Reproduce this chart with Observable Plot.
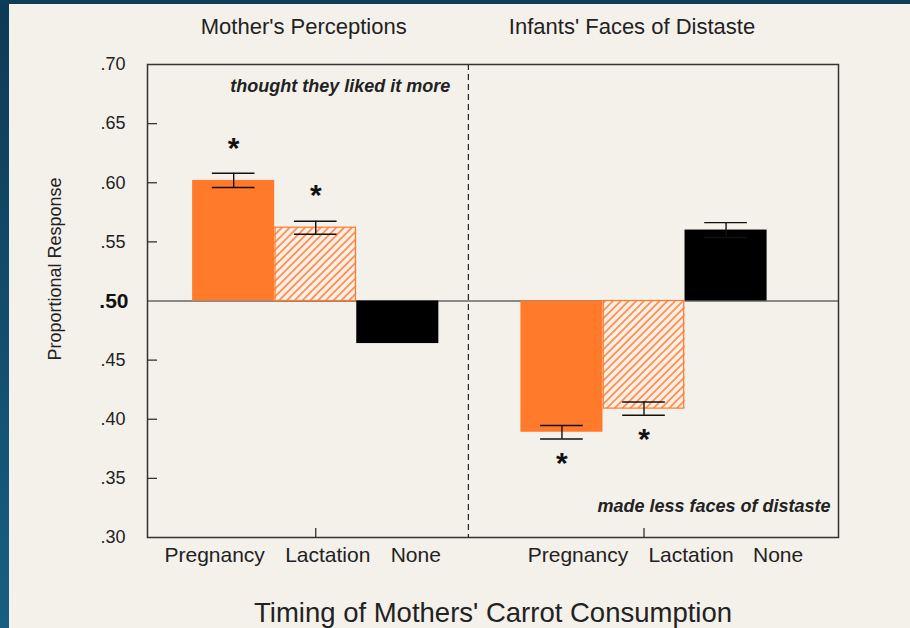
<!DOCTYPE html>
<html><head><meta charset="utf-8">
<script src="https://cdn.jsdelivr.net/npm/d3@7"></script>
<script src="https://cdn.jsdelivr.net/npm/@observablehq/plot@0.6"></script>
<style>
html,body{margin:0;padding:0;background:#f4f1eb;}
#wrap{position:relative;width:910px;height:628px;overflow:hidden;background:#f4f1eb;}
#wrap svg{position:absolute;left:0;top:0;}
.bl{position:absolute;left:0;top:0;width:9px;height:628px;background:linear-gradient(#0d3a56,#175f82);}
.bt{position:absolute;left:0;top:0;width:910px;height:4px;background:#0e3c59;}
</style></head><body><div id="wrap"><div class="bl"></div><div class="bt"></div></div>
<script>
// ---- data ----
const panels = ["Mother's Perceptions", "Infants' Faces of Distaste"];
const timing = ["Pregnancy", "Lactation", "None"];
const motherValues = [0.602, 0.562, 0.464];
const motherErrors = [0.006, 0.0055, null];
const infantValues = [0.389, 0.409, 0.560];
const infantErrors = [0.0057, 0.0056, 0.0063];
const motherStars = [true, true, false];
const infantStars = [true, true, false];
const yTicks = [0.30, 0.35, 0.40, 0.45, 0.50, 0.55, 0.60, 0.65, 0.70];
const baseline = 0.50;
const notes = ["thought they liked it more", "made less faces of distaste"];
const xTitle = "Timing of Mothers' Carrot Consumption";
const yTitle = "Proportional Response";

// ---- layout / style (not data) ----
const slotsPerPanel = 4;            // 3 bars + 1 gap slot
const xDomain = [-0.55, 7.87];      // slot units
const dividerSlot = 3.36;
const labelNudge = [[-19, 12, 18], [16, 47, 52]];
const orange = "#ff7a2b";
const font = "'Liberation Sans', Arial, Helvetica, sans-serif";

const values = [motherValues, infantValues];
const errors = [motherErrors, infantErrors];
const stars = [motherStars, infantStars];
const rows = [];
panels.forEach((panel, p) => timing.forEach((t, i) => rows.push({
  panel, timing: t, p, i, slot: p * slotsPerPanel + i,
  value: values[p][i], err: errors[p][i], star: stars[p][i]
})));
const fmt = d => d3.format(".2f")(d).replace(/^0/, "");
const withErr = rows.filter(d => d.err != null);

const marks = [
  Plot.ruleY([baseline], {stroke: "#222", strokeWidth: 1.2}),
  Plot.ruleX([dividerSlot], {stroke: "#222", strokeWidth: 1.2, strokeDasharray: "6,4"}),
  Plot.rect(rows, {x1: d => d.slot, x2: d => d.slot + 1, y1: baseline, y2: "value", fill: "timing"}),
  Plot.rect(rows.filter(d => d.timing === "Lactation"), {x1: d => d.slot + 0.01, x2: d => d.slot + 0.99, y1: baseline, y2: "value", fill: "none", stroke: orange, strokeWidth: 1.2}),
  Plot.ruleX(withErr, {x: d => d.slot + 0.5, y1: d => d.value - d.err, y2: d => d.value + d.err, stroke: "#111", strokeWidth: 1.4}),
  Plot.ruleY(withErr, {y: d => d.value - d.err, x1: d => d.slot + 0.24, x2: d => d.slot + 0.76, stroke: "#111", strokeWidth: 1.4}),
  Plot.ruleY(withErr, {y: d => d.value + d.err, x1: d => d.slot + 0.24, x2: d => d.slot + 0.76, stroke: "#111", strokeWidth: 1.4}),
  Plot.text(rows.filter(d => d.star && d.value > baseline), {x: d => d.slot + 0.5, y: "value", text: () => "*", fontSize: 30, fontWeight: "bold", dy: -32, fill: "#111"}),
  Plot.text(rows.filter(d => d.star && d.value < baseline), {x: d => d.slot + 0.5, y: "value", text: () => "*", fontSize: 30, fontWeight: "bold", dy: 31, fill: "#111"}),
  Plot.frame({stroke: "#333", strokeWidth: 1.5}),
  Plot.axisY(yTicks.filter(t => t !== baseline && t !== yTicks[0] && t !== yTicks[yTicks.length - 1]), {anchor: "left", tickSize: -10, tickFormat: () => "", label: null, stroke: "#333", strokeWidth: 1.3}),
  Plot.axisX(rows.filter(d => d.timing === "Lactation").map(d => d.slot + 0.5), {anchor: "bottom", tickSize: -9, tickFormat: () => "", label: null, stroke: "#333", strokeWidth: 1.3}),
  Plot.text(yTicks.filter(t => t !== baseline), {y: d => d, text: fmt, frameAnchor: "left", textAnchor: "end", lineAnchor: "middle", dx: -22, fontSize: 18, fill: "#222"}),
  Plot.text([baseline], {y: d => d, text: fmt, frameAnchor: "left", textAnchor: "end", lineAnchor: "middle", dx: -19, fontSize: 21, fontWeight: "bold", fill: "#111"}),
  Plot.text([yTitle], {frameAnchor: "left", rotate: -90, textAnchor: "middle", lineAnchor: "middle", dx: -92, dy: -32, fontSize: 18, fill: "#222"}),
  Plot.text(panels, {x: (d, i) => i * slotsPerPanel + 1.5, frameAnchor: "top", lineAnchor: "middle", dy: -38, dx: -12, fontSize: 22, fill: "#222"}),
  Plot.text([xTitle], {frameAnchor: "bottom", lineAnchor: "middle", dy: 76, fontSize: 27.5, fill: "#222"}),
  Plot.text([notes[0]], {x: dividerSlot, frameAnchor: "top", textAnchor: "end", lineAnchor: "middle", dx: -18, dy: 22, fontSize: 18, fontWeight: "bold", fontStyle: "italic", fill: "#222"}),
  Plot.text([notes[1]], {frameAnchor: "bottom-right", textAnchor: "end", lineAnchor: "middle", dx: -8, dy: -31, fontSize: 18, fontWeight: "bold", fontStyle: "italic", fill: "#222"})
];
rows.forEach(r => marks.push(Plot.text([r], {x: d => d.slot + 0.5, text: "timing", frameAnchor: "bottom", lineAnchor: "middle", dy: 18, dx: labelNudge[r.p][r.i], fontSize: 21, fill: "#222"})));

const svg = Plot.plot({
  width: 910, height: 628,
  marginLeft: 147, marginRight: 72, marginTop: 64, marginBottom: 91,
  x: {type: "linear", domain: xDomain, axis: null},
  y: {domain: [yTicks[0], yTicks[yTicks.length - 1]]},
  color: {domain: timing, range: [orange, "url(#hatch)", "#000"]},
  style: {fontFamily: font, background: "transparent", overflow: "visible", color: "#222"},
  marks
});
const ns = "http://www.w3.org/2000/svg";
const defs = document.createElementNS(ns, "defs");
defs.innerHTML = `<pattern id="hatch" patternUnits="userSpaceOnUse" width="5.5" height="5.5" patternTransform="rotate(45)"><rect width="5.5" height="5.5" fill="#fbefe6"/><line x1="2.75" y1="0" x2="2.75" y2="5.5" stroke="#ff9055" stroke-width="1.8"/></pattern>`;
svg.prepend(defs);
document.getElementById("wrap").prepend(svg);
</script>
</body></html>
